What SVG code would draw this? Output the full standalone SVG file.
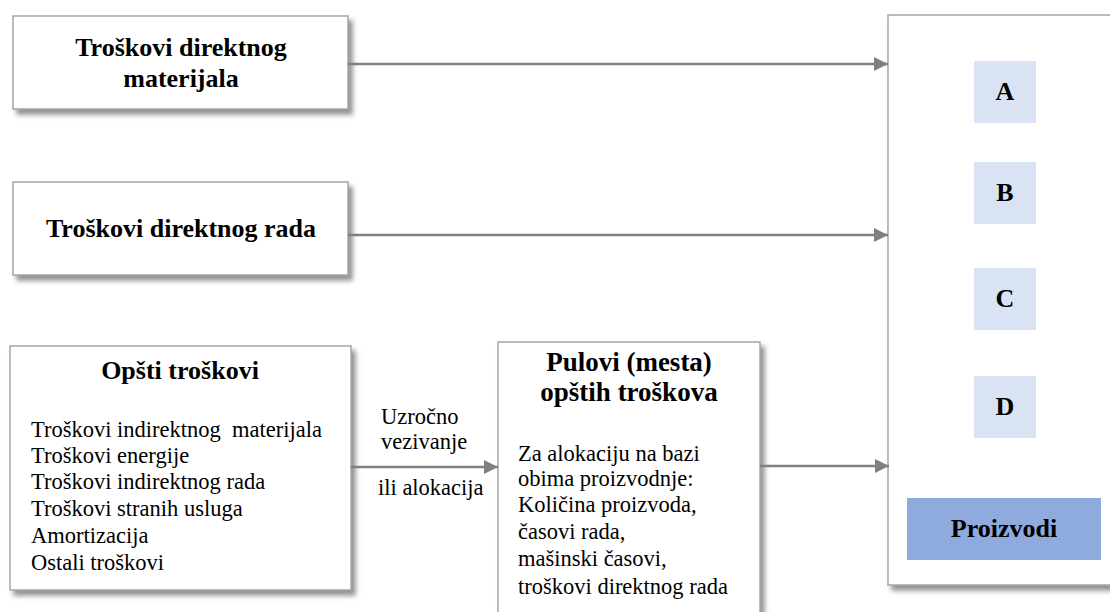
<svg xmlns="http://www.w3.org/2000/svg" width="1110" height="612" viewBox="0 0 1110 612">
  <defs>
    <filter id="shadow" x="-10%" y="-10%" width="130%" height="130%">
      <feDropShadow dx="4" dy="5" stdDeviation="2.5" flood-color="#7f7f7f" flood-opacity="0.85"/>
    </filter>
    <marker id="arrow" viewBox="0 0 14 14" refX="14" refY="7" markerWidth="14" markerHeight="14" markerUnits="userSpaceOnUse" orient="auto">
      <path d="M0,0 L14,7 L0,14 Z" fill="#808080"/>
    </marker>
    <style>
      .box { fill: #ffffff; stroke: #a6a6a6; stroke-width: 1.5; filter: url(#shadow); }
      .title { font-family: "Liberation Serif", "Times New Roman", serif; font-weight: bold; font-size: 26px; fill: #000; text-anchor: middle; }
      .big { font-size: 27px; }
      .body { font-family: "Liberation Serif", "Times New Roman", serif; font-size: 22.5px; fill: #000; }
      .item { fill: #dae3f3; }
      .product { fill: #8faadc; }
      .conn { stroke: #808080; stroke-width: 2.5; fill: none; marker-end: url(#arrow); }
    </style>
  </defs>

  <rect width="1110" height="612" fill="#ffffff"/>

  <!-- direct material -->
  <g id="direct-material">
    <rect class="box" x="13" y="16" width="335" height="93"/>
    <text class="title" x="181" y="56">Troškovi direktnog</text>
    <text class="title" x="181" y="87">materijala</text>
  </g>

  <!-- direct labour -->
  <g id="direct-labour">
    <rect class="box" x="13" y="182" width="335" height="93"/>
    <text class="title" x="181" y="237">Troškovi direktnog rada</text>
  </g>

  <!-- overhead costs -->
  <g id="overhead">
    <rect class="box" x="10" y="346" width="341" height="244"/>
    <text class="title" x="180" y="379">Opšti troškovi</text>
    <text class="body" x="31" y="437" xml:space="preserve">Troškovi indirektnog  materijala</text>
    <text class="body" x="31" y="463">Troškovi energije</text>
    <text class="body" x="31" y="489">Troškovi indirektnog rada</text>
    <text class="body" x="31" y="516">Troškovi stranih usluga</text>
    <text class="body" x="31" y="543">Amortizacija</text>
    <text class="body" x="31" y="570">Ostali troškovi</text>
  </g>

  <!-- overhead pools -->
  <g id="pools">
    <rect class="box" x="498" y="342" width="262" height="290"/>
    <text class="title big" x="629" y="371">Pulovi (mesta)</text>
    <text class="title big" x="629" y="401">opštih troškova</text>
    <text class="body" x="518" y="461">Za alokaciju na bazi</text>
    <text class="body" x="518" y="486">obima proizvodnje:</text>
    <text class="body" x="518" y="512">Količina proizvoda,</text>
    <text class="body" x="518" y="539">časovi rada,</text>
    <text class="body" x="518" y="566">mašinski časovi,</text>
    <text class="body" x="518" y="594">troškovi direktnog rada</text>
  </g>

  <!-- products container -->
  <g id="products">
    <rect class="box" x="888" y="15" width="230" height="570"/>
    <rect class="item" x="974" y="61" width="62" height="62"/>
    <text class="title" x="1005" y="100">A</text>
    <rect class="item" x="974" y="162" width="62" height="62"/>
    <text class="title" x="1005" y="201">B</text>
    <rect class="item" x="974" y="268" width="62" height="62"/>
    <text class="title" x="1005" y="307">C</text>
    <rect class="item" x="974" y="376" width="62" height="62"/>
    <text class="title" x="1005" y="415">D</text>
    <rect class="product" x="907" y="498" width="194" height="62"/>
    <text class="title" x="1004" y="537">Proizvodi</text>
  </g>

  <!-- connectors -->
  <g id="connectors">
    <line class="conn" x1="348" y1="64" x2="888" y2="64"/>
    <line class="conn" x1="348" y1="235" x2="888" y2="235"/>
    <line class="conn" x1="351" y1="467" x2="498" y2="467"/>
    <line class="conn" x1="760" y1="466" x2="889" y2="466"/>
    <text class="body" x="381" y="424">Uzročno</text>
    <text class="body" x="381" y="449">vezivanje</text>
    <text class="body" x="378" y="495">ili alokacija</text>
  </g>
</svg>
